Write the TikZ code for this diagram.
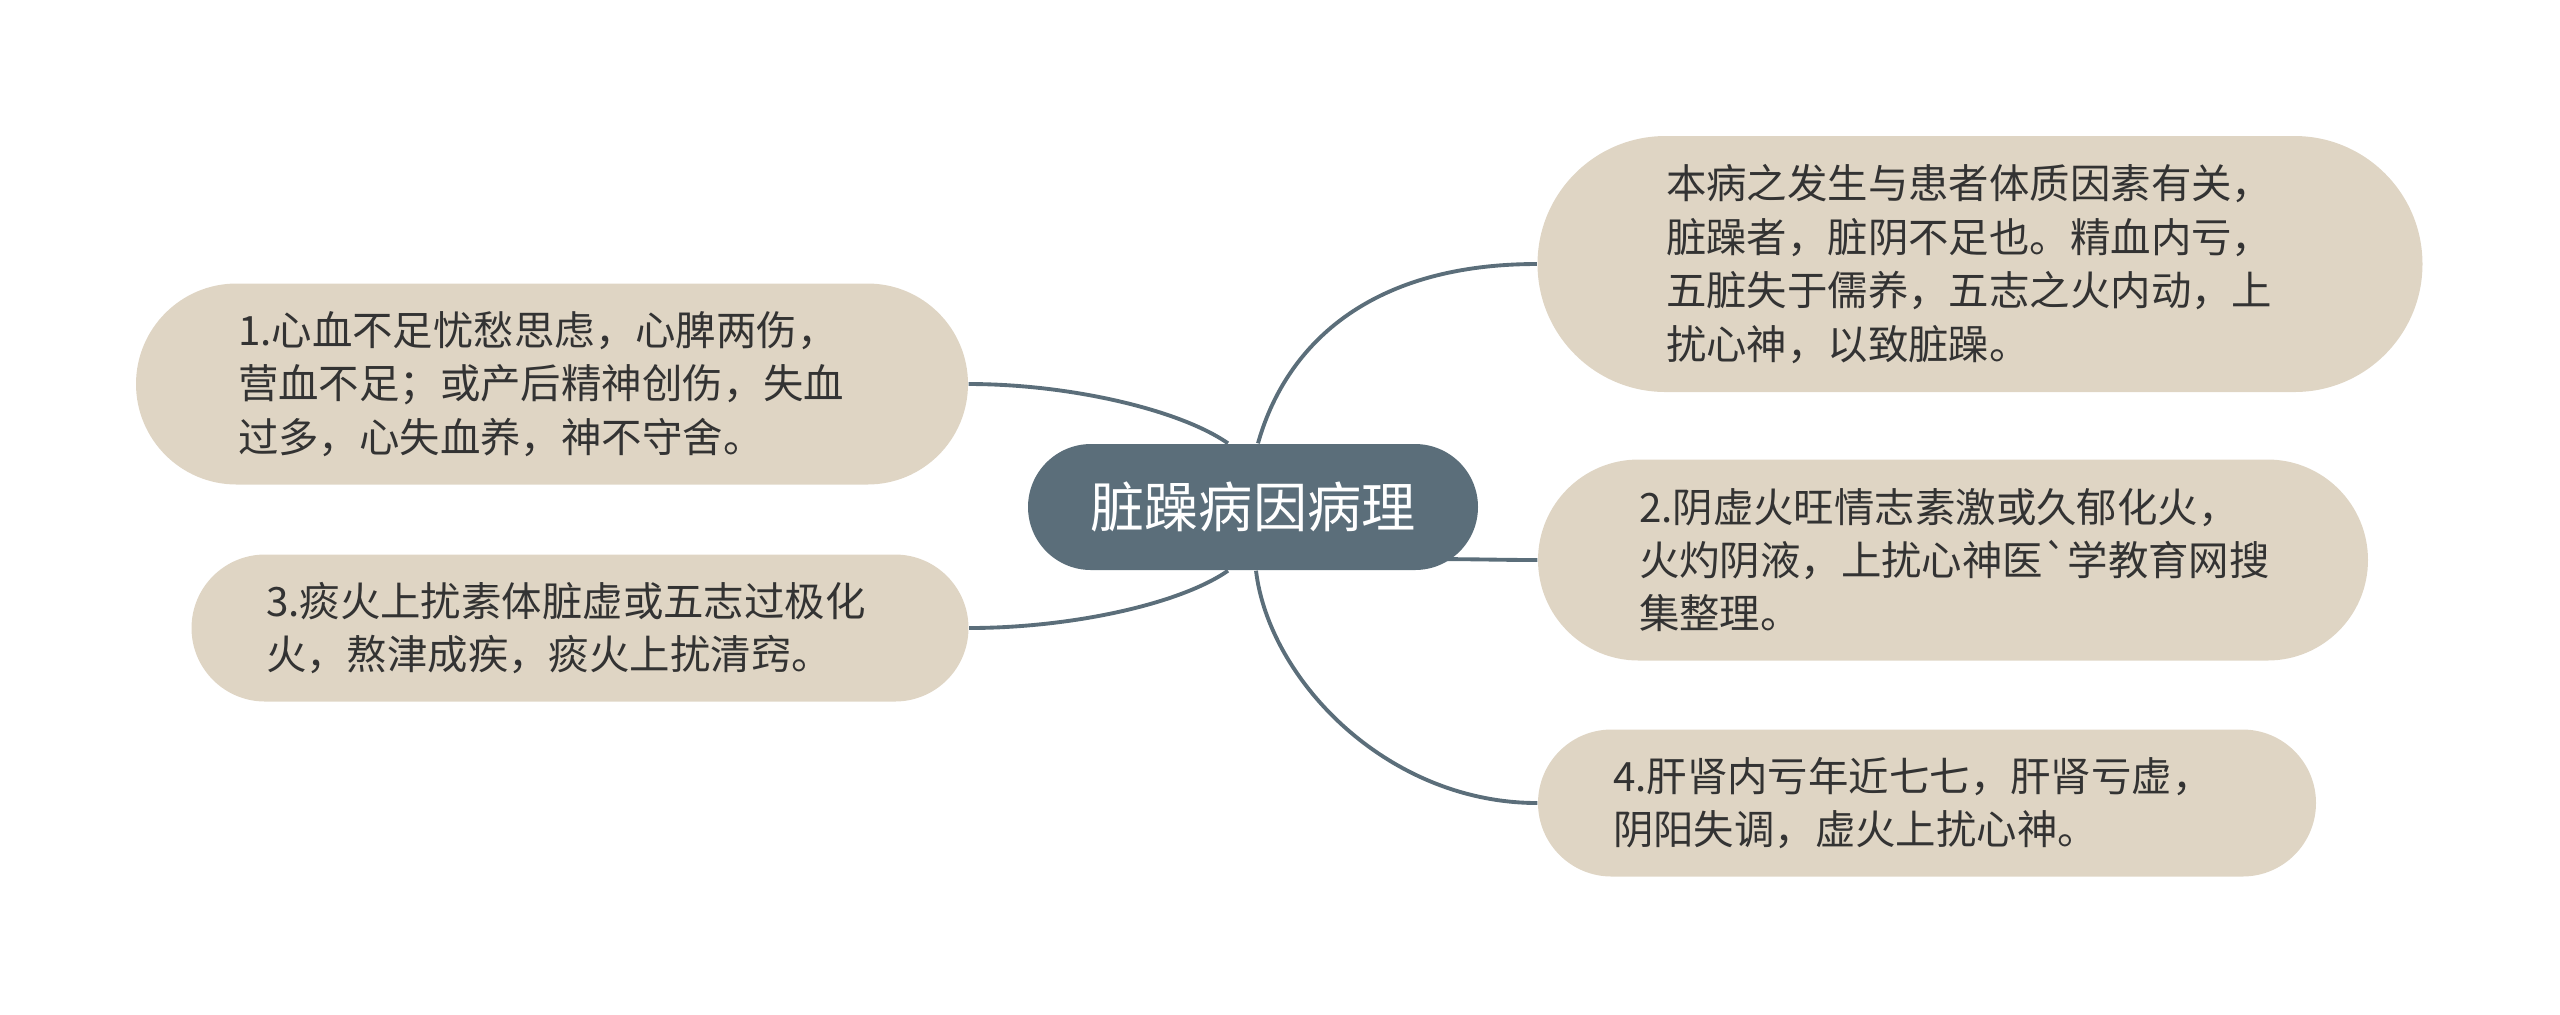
\documentclass[tikz,border=0pt]{standalone}
\usepackage{fontspec}
\newfontfamily\cjk{Noto Sans CJK SC}
\usetikzlibrary{shapes.misc,backgrounds,calc}
\definecolor{slate}{RGB}{91,110,122}
\definecolor{sand}{RGB}{223,213,196}
\definecolor{ink}{RGB}{51,51,51}
\tikzstyle{topic}=[rounded rectangle,fill=slate,text=white,inner sep=0pt,font=\cjk\fontsize{15.4pt}{18pt}\selectfont]
\tikzstyle{leaf}=[rounded rectangle,fill=sand,text=ink,inner sep=0pt,text width=62.8mm,align=left,font=\cjk\fontsize{11.5pt}{15.2pt}\selectfont]
\tikzstyle{branch}=[slate,line width=1.1pt]

\begin{document}
\begin{tikzpicture}[x=0.1mm,y=-0.1mm]
	\useasboundingbox (0,0) rectangle (2560,1014);
	
	\node[topic,minimum width=45mm,minimum height=12.6mm] (root) at (1253,507) {脏躁病因病理};
	
	\node[leaf,minimum width=88.5mm,minimum height=25.6mm] (cause) at (1980,264) {本病之发生与患者体质因素有关，\\脏躁者，脏阴不足也。精血内亏，\\五脏失于儒养，五志之火内动，上\\扰心神，以致脏躁。};
	\node[leaf,minimum width=83mm,minimum height=20.1mm] (yin) at (1953,560) {2.阴虚火旺情志素激或久郁化火，\\火灼阴液，上扰心神医\textasciigrave 学教育网搜\\集整理。};
	\node[leaf,minimum width=77.8mm,minimum height=14.7mm] (liver) at (1927,803) {4.肝肾内亏年近七七，肝肾亏虚，\\阴阳失调，虚火上扰心神。};
	
	\node[leaf,minimum width=83.2mm,minimum height=20.1mm] (heart) at (552,384) {1.心血不足忧愁思虑，心脾两伤，\\营血不足；或产后精神创伤，失血\\过多，心失血养，神不守舍。};
	\node[leaf,minimum width=77.7mm,minimum height=14.7mm] (phlegm) at (580,628) {3.痰火上扰素体脏虚或五志过极化\\火，熬津成疾，痰火上扰清窍。};
	
	% branches behind the root
	\begin{scope}[on background layer]
	\draw[branch] ($(root.north)+(5,0)$) .. controls +(27,-96) and +(-170,0) .. (cause.west);
	\draw[branch] ($(root.east)+(-60,52)$) .. controls +(60,0) and +(-40,0) .. (yin.west);
	\draw[branch] ($(root.south)+(3,0)$) .. controls +(13,109) and +(-150,0) .. (liver.west);
	\draw[branch] ($(root.north)+(-25,0)$) .. controls +(-49,-34) and +(100,0) .. (heart.east);
	\draw[branch] ($(root.south)+(-25,0)$) .. controls +(-49,34) and +(100,0) .. (phlegm.east);
	\end{scope}
\end{tikzpicture}
\end{document}
